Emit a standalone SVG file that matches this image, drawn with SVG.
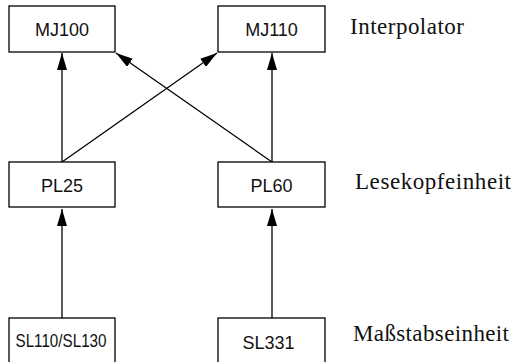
<svg xmlns="http://www.w3.org/2000/svg" width="513" height="362" viewBox="0 0 513 362">
<style>
.box{fill:#fff;stroke:#000;stroke-width:1.3}
.lbl{font-family:"Liberation Sans",Arial,sans-serif;font-size:18px;fill:#111;text-anchor:middle}
.side{font-family:"Liberation Serif","Times New Roman",serif;font-size:23px;fill:#111}
.conn{stroke:#000;stroke-width:1.3;fill:none;marker-end:url(#ah)}
</style>
<defs>
<marker id="ah" viewBox="0 0 17 10" refX="17" refY="5" markerWidth="17" markerHeight="10" markerUnits="userSpaceOnUse" orient="auto">
<path d="M0,0 L17,5 L0,10 Z" fill="#000"/>
</marker>
</defs>
<g id="connectors">
<line class="conn" x1="62" y1="162" x2="62" y2="53"/>
<line class="conn" x1="272" y1="162" x2="272" y2="53"/>
<line class="conn" x1="62" y1="162" x2="217" y2="53"/>
<line class="conn" x1="272" y1="162" x2="116" y2="53"/>
<line class="conn" x1="62" y1="318" x2="62" y2="209"/>
<line class="conn" x1="272" y1="318" x2="272" y2="209"/>
</g>
<g id="MJ100"><rect class="box" x="9" y="6" width="106" height="46"/><text class="lbl" x="62" y="36">MJ100</text></g>
<g id="MJ110"><rect class="box" x="218" y="6" width="107" height="46"/><text class="lbl" x="271.5" y="36">MJ110</text></g>
<g id="PL25"><rect class="box" x="9" y="162" width="106" height="45"/><text class="lbl" x="62" y="192">PL25</text></g>
<g id="PL60"><rect class="box" x="218" y="162" width="107" height="45"/><text class="lbl" x="271.5" y="192">PL60</text></g>
<g id="SL110"><rect class="box" x="9" y="318" width="106" height="50"/><text class="lbl" x="61" y="347" font-size="17" textLength="91" lengthAdjust="spacingAndGlyphs">SL110/SL130</text></g>
<g id="SL331"><rect class="box" x="218" y="318" width="107" height="50"/><text class="lbl" x="268.5" y="349">SL331</text></g>
<text class="side" x="350" y="34" textLength="114">Interpolator</text>
<text class="side" x="355" y="189" textLength="156">Lesekopfeinheit</text>
<text class="side" x="353" y="341" textLength="156">Maßstabseinheit</text>
</svg>
